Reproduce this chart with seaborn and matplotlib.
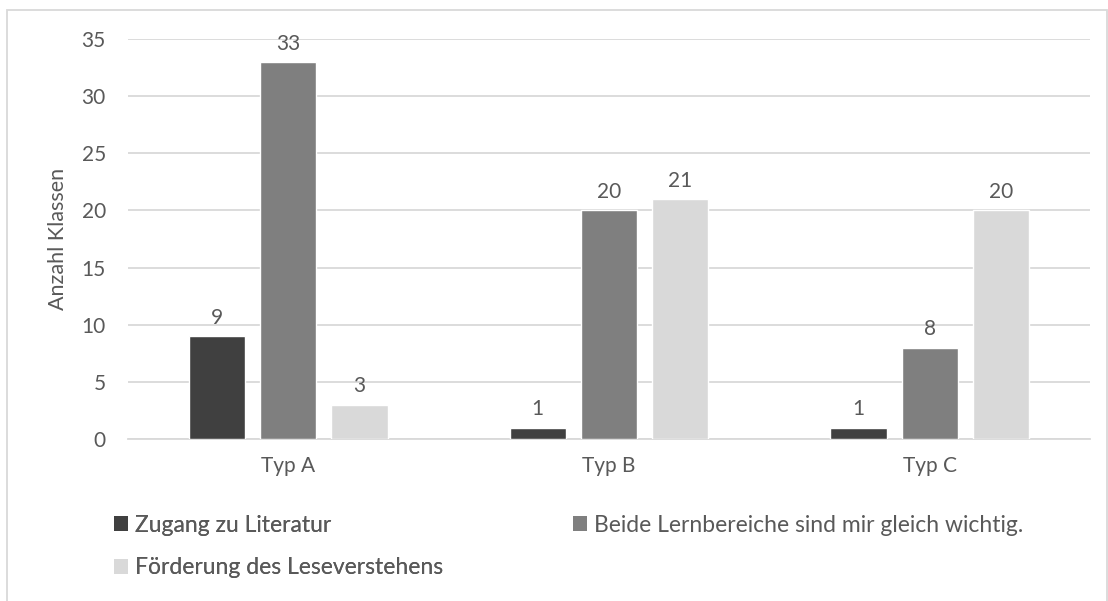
import pandas as pd
import matplotlib.pyplot as plt
import seaborn as sns
from matplotlib.patches import Patch, Rectangle

# Data
typen = ["Typ A", "Typ B", "Typ C"]
kategorien = ["Zugang zu Literatur",
              "Beide Lernbereiche sind mir gleich wichtig.",
              "Förderung des Leseverstehens"]
zugang = [9, 1, 1]
beide = [33, 20, 8]
foerderung = [3, 21, 20]
farben = ["#404040", "#7f7f7f", "#d9d9d9"]

rows = []
for werte, kat in zip([zugang, beide, foerderung], kategorien):
    for typ, v in zip(typen, werte):
        rows.append({"Typ": typ, "Anzahl": v, "Kategorie": kat})
df = pd.DataFrame(rows)

sns.set_style("white")
plt.rcParams['font.family'] = ['Lato', 'DejaVu Sans']
textfarbe = "#595959"
gitter = "#d9d9d9"

fig = plt.figure(figsize=(11.08, 6.01), dpi=100)
ax = fig.add_axes([0.1155, 0.2696, 0.8683, 0.6654])

sns.barplot(data=df, x="Typ", y="Anzahl", hue="Kategorie", hue_order=kategorien,
            palette=farben, width=0.666, gap=0.21, saturation=1, ax=ax,
            legend=False, zorder=3)

# value labels
for cont in ax.containers:
    ax.bar_label(cont, padding=6, fontsize=15, color=textfarbe)

ax.set_xlim(-0.5, 2.5)
ax.set_ylim(0, 35)
ax.set_yticks(range(0, 36, 5))
ax.yaxis.grid(True, color=gitter, lw=1.3, zorder=0)
ax.set_axisbelow(True)
for s in ["left", "right", "top"]:
    ax.spines[s].set_visible(False)
ax.spines["bottom"].set_color(gitter)
ax.spines["bottom"].set_linewidth(1.3)
ax.tick_params(axis="both", length=0, labelsize=15, labelcolor=textfarbe)
ax.tick_params(axis="y", pad=16)
ax.tick_params(axis="x", pad=12)
ax.set_xlabel("")
ax.set_ylabel("Anzahl Klassen", fontsize=15.5, color=textfarbe, labelpad=10)

# legend in two rows, as in the reference
handles = [Patch(facecolor=c, edgecolor="none") for c in farben]
kw = dict(loc="center left", frameon=False, fontsize=16.5, labelcolor=textfarbe,
          handlelength=0.6, handleheight=0.6, handletextpad=0.3,
          borderaxespad=0, borderpad=0)
leg1 = fig.legend([handles[0]], [kategorien[0]],
                  bbox_to_anchor=(114 / 1108, 1 - 525 / 601), **kw)
leg2 = fig.legend([handles[2]], [kategorien[2]],
                  bbox_to_anchor=(114 / 1108, 1 - 568 / 601), **kw)
fig.legend([handles[1]], [kategorien[1]],
           bbox_to_anchor=(573 / 1108, 1 - 525 / 601), **kw)
fig.add_artist(leg1)
fig.add_artist(leg2)

# outer chart frame
fig.patches.append(Rectangle((7 / 1108, -0.01), 1100 / 1108, 1 - 10 / 601 + 0.01,
                             transform=fig.transFigure, fill=False,
                             edgecolor=gitter, lw=1.3))

fig.savefig("out.png", dpi=100)
